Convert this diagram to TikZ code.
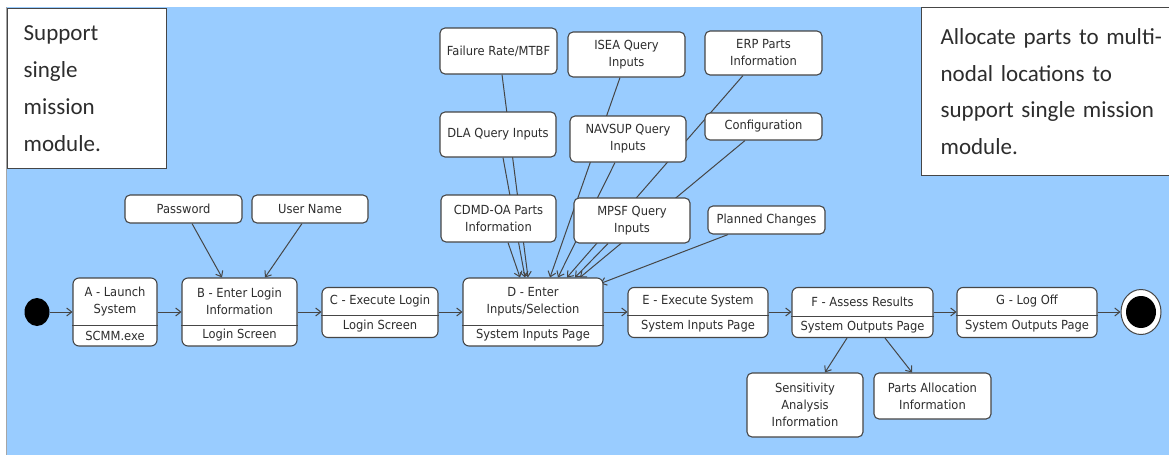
\documentclass[tikz,border=0pt]{standalone}
\usepackage{fontspec}
\setmainfont{DejaVu Sans}
\newfontfamily\nodefont[FakeStretch=0.92]{DejaVu Sans}
\newfontfamily\notefont{Carlito}
\usetikzlibrary{arrows.meta,shapes.geometric,calc}
\pgfdeclarelayer{bglayer}
\pgfdeclarelayer{edgelayer}
\pgfsetlayers{bglayer,edgelayer,main}
\definecolor{skyb}{RGB}{153,204,255}
\definecolor{bord}{RGB}{70,70,70}
\definecolor{ink}{RGB}{45,45,45}
\begin{document}
\begin{tikzpicture}[x=1pt,y=-1pt,
  sbox/.style={draw=bord,line width=1.1pt,fill=white,rounded corners=6pt,inner sep=0pt},
  ibox/.style={draw=bord,line width=1.1pt,fill=white,rounded corners=5pt,inner sep=0pt,align=center,
    font=\nodefont\fontsize{12.5}{17}\selectfont,text=ink},
  stext/.style={inner sep=0pt,align=center,font=\nodefont\fontsize{12.5}{17.5}\selectfont,text=ink},
  divline/.style={draw=bord,line width=1pt},
  flow/.style={draw=bord,line width=1pt,-{Straight Barb[length=5pt,width=8pt]}},
  note/.style={draw=bord,line width=1.3pt,fill=white,inner sep=0pt,align=left,anchor=north west,
    font=\notefont\fontsize{23}{36.7}\selectfont,text=ink}]
\useasboundingbox (0,0) rectangle (1169,455);
\begin{pgfonlayer}{bglayer}
  \fill[skyb] (6,7) rectangle (1169,455);
  \draw[gray!70,line width=1pt] (6.5,7) -- (6.5,455);
\end{pgfonlayer}

% notes
\node[note,minimum width=159,minimum height=160,text width=127,inner xsep=16pt] (noteL) at (7,8)
  {Support\\single\\mission\\module.};
\node[note,minimum width=274,minimum height=168,text width=236,inner xsep=19pt] (noteR) at (921,7)
  {Allocate parts to multi-\\nodal locations to\\support single mission\\module.};

% initial / final
\node[ellipse,fill=black,minimum width=25,minimum height=28,inner sep=0pt] (start) at (37,312) {};
\node[ellipse,draw=bord,line width=1pt,fill=white,minimum width=40,minimum height=45,inner sep=0pt] (finish) at (1141,312) {};
\node[ellipse,fill=black,minimum width=30,minimum height=32,inner sep=0pt] (finishdot) at (1141,312) {};

% state boxes
\node[sbox,minimum width=84,minimum height=68] (A) at (115,312) {};
\draw[divline] (A.west |- 0,325) -- (A.east |- 0,325);
\node[stext] (Atop) at (115,301.5) {A - Launch\\System};
\node[stext] (Abot) at (115,335.5) {SCMM.exe};

\node[sbox,minimum width=115,minimum height=68] (B) at (239.5,312) {};
\draw[divline] (B.west |- 0,325) -- (B.east |- 0,325);
\node[stext] (Btop) at (239.5,301.5) {B - Enter Login\\Information};
\node[stext] (Bbot) at (239.5,335.5) {Login Screen};

\node[sbox,minimum width=116,minimum height=50] (C) at (380,312.5) {};
\draw[divline] (C.west |- 0,315) -- (C.east |- 0,315);
\node[stext] (Ctop) at (380,301.5) {C - Execute Login};
\node[stext] (Cbot) at (380,326.5) {Login Screen};

\node[sbox,minimum width=140,minimum height=68] (D) at (533,312) {};
\draw[divline] (D.west |- 0,325) -- (D.east |- 0,325);
\node[stext] (Dtop) at (533,301.5) {D - Enter\\Inputs/Selection};
\node[stext] (Dbot) at (533,335.5) {System Inputs Page};

\node[sbox,minimum width=140,minimum height=50] (E) at (698,312.5) {};
\draw[divline] (E.west |- 0,315) -- (E.east |- 0,315);
\node[stext] (Etop) at (698,301.5) {E - Execute System};
\node[stext] (Ebot) at (698,326.5) {System Inputs Page};

\node[sbox,minimum width=141,minimum height=50] (F) at (862.5,312.5) {};
\draw[divline] (F.west |- 0,316) -- (F.east |- 0,316);
\node[stext] (Ftop) at (862.5,301.5) {F - Assess Results};
\node[stext] (Fbot) at (862.5,327) {System Outputs Page};

\node[sbox,minimum width=140,minimum height=50] (G) at (1027,312.5) {};
\draw[divline] (G.west |- 0,315) -- (G.east |- 0,315);
\node[stext] (Gtop) at (1027,301.5) {G - Log Off};
\node[stext] (Gbot) at (1027,326.5) {System Outputs Page};

% input boxes
\node[ibox,minimum width=117,minimum height=28] (pw) at (183.5,209) {Password};
\node[ibox,minimum width=116,minimum height=28] (user) at (310,209) {User Name};
\node[ibox,minimum width=117,minimum height=46] (fail) at (498.5,51) {Failure Rate/MTBF};
\node[ibox,minimum width=117,minimum height=45] (isea) at (626.5,54.5) {ISEA Query\\Inputs};
\node[ibox,minimum width=117,minimum height=44] (erp) at (763.5,53) {ERP Parts\\Information};
\node[ibox,minimum width=116,minimum height=45] (dla) at (498,134.5) {DLA Query Inputs};
\node[ibox,minimum width=116,minimum height=46] (nav) at (628,139) {NAVSUP Query\\Inputs};
\node[ibox,minimum width=117,minimum height=27] (conf) at (763.5,126.5) {Configuration};
\node[ibox,minimum width=115,minimum height=47] (cdmd) at (498.5,218.5) {CDMD-OA Parts\\Information};
\node[ibox,minimum width=116,minimum height=45] (mpsf) at (632,220.5) {MPSF Query\\Inputs};
\node[ibox,minimum width=117,minimum height=28] (plan) at (766.5,220) {Planned Changes};
\node[ibox,minimum width=116,minimum height=64] (sens) at (805,405) {Sensitivity\\Analysis\\Information};
\node[ibox,minimum width=117,minimum height=46] (parts) at (932.5,396) {Parts Allocation\\Information};

% flow
\draw[flow] (start) -- (A);
\draw[flow] (A.east) -- (B.west);
\draw[flow] (B.east) -- (B.east -| C.west);
\draw[flow] (C.east |- D.west) -- (D.west);
\draw[flow] (D.east) -- (D.east -| E.west);
\draw[flow] (E.east |- D.east) -- (D.east -| F.west);
\draw[flow] (F.east |- D.east) -- (D.east -| G.west);
\draw[flow] (G.east |- D.east) -- (finish);

\begin{pgfonlayer}{edgelayer}
  \draw[flow] ([xshift=8.5pt]pw.south) -- ([xshift=-17.5pt]B.north);
  \draw[flow] ([xshift=-8pt]user.south) -- ([xshift=25.5pt]B.north);
  \draw[flow] ([xshift=3.5pt]fail.south) -- ([xshift=-5pt]D.north);
  \draw[flow] ([xshift=5pt]dla.south) -- ([xshift=-8pt]D.north);
  \draw[flow] ([xshift=9.5pt]cdmd.south) -- ([xshift=-13pt]D.north);
  \draw[flow] ([xshift=-6.5pt]isea.south) -- ([xshift=17pt]D.north);
  \draw[flow] ([xshift=-13pt]nav.south) -- ([xshift=25pt]D.north);
  \draw[flow] ([xshift=-20.5pt]erp.south) -- ([xshift=34pt]D.north);
  \draw[flow] ([xshift=-24pt]mpsf.south) -- ([xshift=42pt]D.north);
  \draw[flow] ([xshift=-18.5pt]conf.south) -- ([xshift=47pt]D.north);
  \draw[flow] ([xshift=-38.5pt]plan.south) -- ([shift={(-3,6)}]D.north east);
  \draw[flow] ([xshift=-15.5pt]F.south) -- ([xshift=20pt]sens.north);
  \draw[flow] ([xshift=22.5pt]F.south) -- ([xshift=-20.5pt]parts.north);
\end{pgfonlayer}
\end{tikzpicture}
\end{document}
